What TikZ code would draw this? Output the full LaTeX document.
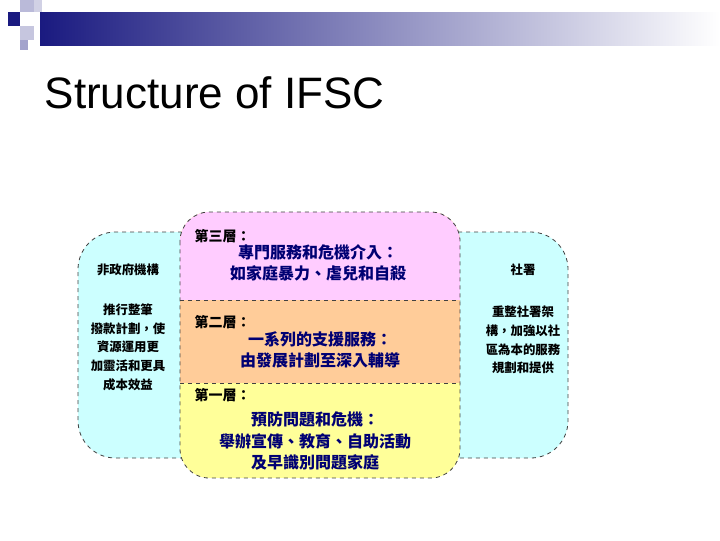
\documentclass[tikz,border=0pt]{standalone}
\usepackage{fontspec}
\setmainfont{Liberation Sans}
\newfontfamily\cjk{Noto Sans CJK TC}
\begin{document}
\begin{tikzpicture}[x=0.75pt,y=-0.75pt,
  box/.style={draw=black!75,dashed,line width=0.6pt},
  sidetxt/.style={font=\cjk\bfseries\fontsize{9.3}{14}\selectfont,align=center,text=black},
  lvl/.style={font=\cjk\bfseries\fontsize{10.5}{13}\selectfont,anchor=west,text=black},
  body/.style={font=\cjk\bfseries\fontsize{12}{16}\selectfont,align=center,text=blue!45!black}]
\definecolor{cy}{HTML}{CCFFFF}
\definecolor{pk}{HTML}{FFCCFF}
\definecolor{og}{HTML}{FFCC99}
\definecolor{yl}{HTML}{FFFF99}
\definecolor{nv}{HTML}{1A1A80}
\useasboundingbox (0,0) rectangle (720,540);
% header
\shade[left color=nv,right color=white] (40,12) rectangle (720,45);
\fill[nv] (8,12) rectangle (20,26);
\fill[nv!30] (20,0) rectangle (34,12);
\fill[nv!20] (34,0) rectangle (42,12);
\fill[nv!25] (20,26) rectangle (34,40);
\fill[nv!40] (20,40) rectangle (28,50);
\node[anchor=west,font=\fontsize{33}{36}\selectfont] (title) at (40,93) {Structure of IFSC};
% side boxes
\draw[box,fill=cy,rounded corners=28pt] (182,232) -- (78,232) -- (78,458) -- (182,458);
\draw[box,fill=cy,rounded corners=28pt] (458,232) -- (568,232) -- (568,458) -- (458,458);
% center
\begin{scope}
\clip[rounded corners=22pt] (180,212) rectangle (460,478);
\fill[yl] (180,212) rectangle (460,478);
\fill[og] (180,212) rectangle (460,383);
\fill[pk] (180,212) rectangle (460,300);
\end{scope}
\draw[box,rounded corners=22pt] (180,212) rectangle (460,478);
\draw[box] (180,300) -- (460,300);
\draw[box] (180,383) -- (460,383);
% texts
\node[sidetxt] (ngo) at (128,270) {非政府機構};
\node[sidetxt] (ngot) at (128,347) {推行整筆\\撥款計劃，使\\資源運用更\\加靈活和更具\\成本效益};
\node[sidetxt] (swd) at (523,270) {社署};
\node[sidetxt] (swdt) at (523,340) {重整社署架\\構，加強以社\\區為本的服務\\規劃和提供};
\node[lvl] (l3) at (190,236) {第三層：};
\node[body] (b3) at (318,263) {專門服務和危機介入：\\如家庭暴力、虐兒和自殺};
\node[lvl] (l2) at (190,322) {第二層：};
\node[body] (b2) at (320,350) {一系列的支援服務：\\由發展計劃至深入輔導};
\node[lvl] (l1) at (190,395) {第一層：};
\node[body] (b1) at (315,441) {預防問題和危機：\\舉辦宣傳、教育、自助活動\\及早識別問題家庭};
\end{tikzpicture}
\end{document}
